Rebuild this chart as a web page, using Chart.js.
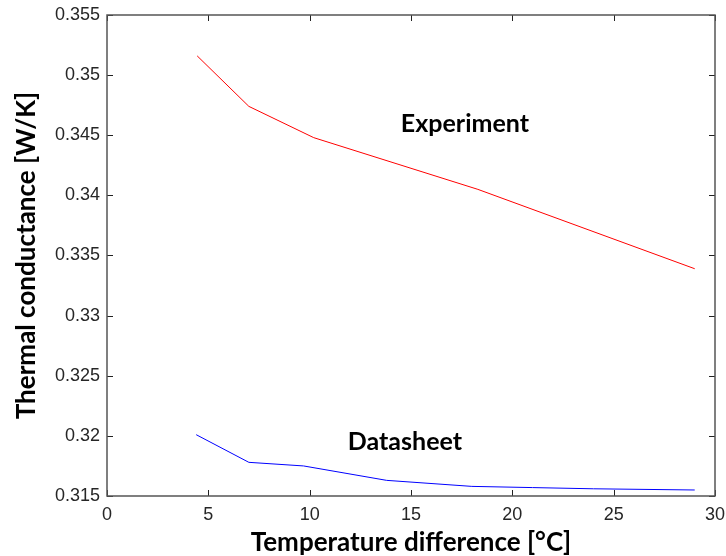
<!DOCTYPE html>
<html>
<head>
<meta charset="utf-8">
<script src="https://cdn.jsdelivr.net/npm/chart.js@4/dist/chart.umd.min.js"></script>
<style>
  html, body { margin: 0; padding: 0; background: #fff; }
  #wrap { width: 726px; height: 556px; }
</style>
</head>
<body>
<div id="wrap"><canvas id="c" width="726" height="556"></canvas></div>
<script>
// Temperature difference [°C]
const expX = [4.45, 7.0, 10.2, 18.3, 29.0];
// Measured thermal conductance [W/K]
const expY = [0.3516, 0.3474, 0.3448, 0.3405, 0.3339];

const dsX = [4.4, 7.0, 9.7, 13.8, 18.0, 21.0, 24.0, 29.0];
// Datasheet thermal conductance [W/K]
const dsY = [0.3201, 0.3178, 0.3175, 0.3163, 0.3158, 0.3157, 0.3156, 0.3155];

const xTicks = [0, 5, 10, 15, 20, 25, 30];
const yTicks = [0.315, 0.32, 0.325, 0.33, 0.335, 0.34, 0.345, 0.35, 0.355];

const seriesLabels = ['Experiment', 'Datasheet'];
// where each series name is written, in data units
const labelAt = [[17.66, 0.34594], [14.7, 0.3195]];

const toPts = (xs, ys) => xs.map((x, i) => ({ x, y: ys[i] }));

const boxTicks = {
  id: 'boxTicks',
  afterDatasetsDraw(chart) {
    const { ctx, chartArea: a, scales } = chart;
    const len = 6;
    ctx.save();
    ctx.strokeStyle = '#222';
    ctx.lineWidth = 1;
    ctx.beginPath();
    xTicks.forEach(v => {
      const px = Math.round(scales.x.getPixelForValue(v)) + 0.5;
      ctx.moveTo(px, a.bottom); ctx.lineTo(px, a.bottom - len);
      ctx.moveTo(px, a.top); ctx.lineTo(px, a.top + len);
    });
    yTicks.forEach(v => {
      const py = Math.round(scales.y.getPixelForValue(v)) + 0.5;
      ctx.moveTo(a.left, py); ctx.lineTo(a.left + len, py);
      ctx.moveTo(a.right, py); ctx.lineTo(a.right - len, py);
    });
    ctx.stroke();
    ctx.strokeStyle = '#555';
    ctx.lineWidth = 1.5;
    ctx.strokeRect(a.left, a.top, a.right - a.left, a.bottom - a.top);

    ctx.fillStyle = '#000';
    ctx.font = 'bold 25px Lato, "Open Sans", sans-serif';
    ctx.textAlign = 'center';
    ctx.textBaseline = 'middle';
    seriesLabels.forEach((t, i) => {
      ctx.fillText(t, scales.x.getPixelForValue(labelAt[i][0]), scales.y.getPixelForValue(labelAt[i][1]));
    });
    ctx.restore();
  }
};

const tickFont = { family: 'Arial, "Liberation Sans", sans-serif', size: 18 };
const titleFont = { family: 'Lato, "Open Sans", sans-serif', size: 26, weight: 'bold', lineHeight: 1 };

new Chart(document.getElementById('c'), {
  type: 'line',
  data: {
    datasets: [
      { label: seriesLabels[0], data: toPts(expX, expY), borderColor: '#ff0000', borderWidth: 1, pointRadius: 0, tension: 0, fill: false },
      { label: seriesLabels[1], data: toPts(dsX, dsY), borderColor: '#0000ff', borderWidth: 1, pointRadius: 0, tension: 0, fill: false }
    ]
  },
  options: {
    responsive: false,
    animation: false,
    devicePixelRatio: 1,
    layout: { padding: { top: 15, right: 11, left: 0, bottom: 0 } },
    plugins: { legend: { display: false }, tooltip: { enabled: false } },
    scales: {
      x: {
        type: 'linear', min: 0, max: 30,
        afterBuildTicks: s => { s.ticks = xTicks.map(v => ({ value: v })); },
        afterFit: s => { s.height = 60; s.paddingLeft = 0; s.paddingRight = 0; },
        grid: { display: false, drawTicks: false },
        border: { display: false },
        ticks: { font: tickFont, color: '#262626', padding: 8, maxRotation: 0, callback: v => String(v) },
        title: { display: true, text: 'Temperature difference [°C]', font: titleFont, color: '#000', padding: { top: 0, bottom: 0 } }
      },
      y: {
        type: 'linear', min: 0.315, max: 0.355,
        afterBuildTicks: s => { s.ticks = yTicks.map(v => ({ value: v })); },
        afterFit: s => { s.width = 107; s.paddingTop = 0; s.paddingBottom = 0; },
        grid: { display: false, drawTicks: false },
        border: { display: false },
        ticks: { font: tickFont, color: '#262626', padding: 7, callback: v => String(+v.toFixed(3)) },
        title: { display: true, text: 'Thermal conductance [W/K]', font: titleFont, color: '#000', padding: { top: 14, bottom: 0 } }
      }
    }
  },
  plugins: [boxTicks]
});
</script>
</body>
</html>
